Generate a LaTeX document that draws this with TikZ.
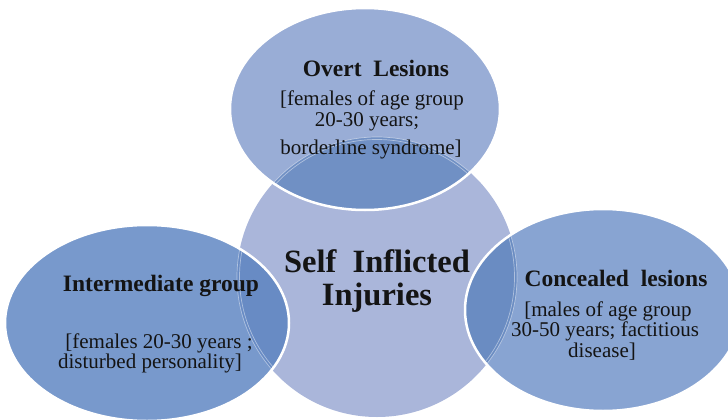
\documentclass[tikz,border=0pt]{standalone}
\usepackage{fontspec}
\setmainfont{Liberation Serif}
\definecolor{hub}{HTML}{AAB6DA}
\definecolor{topfill}{HTML}{99ADD6}
\definecolor{leftfill}{HTML}{7899CC}
\definecolor{rightfill}{HTML}{88A4D2}
\definecolor{topmix}{HTML}{7090C4}
\definecolor{leftmix}{HTML}{688BC4}
\definecolor{rightmix}{HTML}{6A8CC2}
\definecolor{ink}{HTML}{141414}
\begin{document}
\begin{tikzpicture}[x=1pt,y=-1pt,
  heading/.style={font=\fontsize{23.5}{28}\selectfont\bfseries, text=ink, anchor=base, inner sep=0pt},
  detail/.style={font=\fontsize{21}{24}\selectfont, text=ink, anchor=base, inner sep=0pt},
  hubtext/.style={font=\fontsize{32.5}{34}\selectfont\bfseries, text=ink, anchor=base, inner sep=0pt},
  rim/.style={draw=white, line width=2.5pt},
  ghost/.style={draw=white, draw opacity=0.45, line width=0.7pt}]
\useasboundingbox (0,0) rectangle (728,420);

% centres of the four discs
\coordinate (hubC) at (377,277);
\coordinate (topC) at (365,109);
\coordinate (leftC) at (147,323);
\coordinate (rightC) at (603,310);

\begin{scope}
\clip (0,0) rectangle (728,420);
% central disc
\fill[hub] (hubC) circle[radius=140pt];
% outer discs
\fill[topfill] (topC) ellipse[x radius=135pt, y radius=101pt];
\fill[leftfill] (leftC) ellipse[x radius=142pt, y radius=98pt];
\fill[rightfill] (rightC) ellipse[x radius=138pt, y radius=101pt];
% darker overlaps with the central disc
\begin{scope}
  \clip (hubC) circle[radius=140pt];
  \fill[topmix] (topC) ellipse[x radius=135pt, y radius=101pt];
  \fill[leftmix] (leftC) ellipse[x radius=142pt, y radius=98pt];
  \fill[rightmix] (rightC) ellipse[x radius=138pt, y radius=101pt];
\end{scope}
% faint rim of the central disc, seen only through the outer discs
\foreach \c/\rx/\ry in {topC/135/101, leftC/142/98, rightC/138/101}{
  \begin{scope}
    \clip (\c) ellipse[x radius=\rx pt, y radius=\ry pt];
    \draw[ghost] (hubC) circle[radius=140pt];
    \draw[ghost] (hubC) circle[radius=137.5pt];
  \end{scope}
}
% white rims of the outer discs
\draw[rim] (topC) ellipse[x radius=135pt, y radius=101pt];
\draw[rim] (leftC) ellipse[x radius=142pt, y radius=98pt];
\draw[rim] (rightC) ellipse[x radius=138pt, y radius=101pt];
\end{scope}

% central label
\node[hubtext] (hubL1) at (377,272) {Self\ \ Inflicted};
\node[hubtext] (hubL2) at (377,305) {Injuries};

% top disc
\node[heading] (overtT) at (376,77) {Overt\ \ Lesions};
\node[detail] (overtL1) at (372,105) {[females of age group};
\node[detail] (overtL2) at (367,126) {20-30 years;};
\node[detail] (overtL3) at (371,154) {borderline syndrome]};

% left disc
\node[heading] (interT) at (161,291) {Intermediate group};
\node[detail] (interL1) at (159,348) {[females 20-30 years ;};
\node[detail] (interL2) at (150,368) {disturbed personality]};

% right disc
\node[heading] (concT) at (616,286) {Concealed\ \ lesions};
\node[detail] (concL1) at (608,316) {[males of age group};
\node[detail] (concL2) at (605,336) {30-50 years; factitious};
\node[detail] (concL3) at (602,357) {disease]};
\end{tikzpicture}
\end{document}
